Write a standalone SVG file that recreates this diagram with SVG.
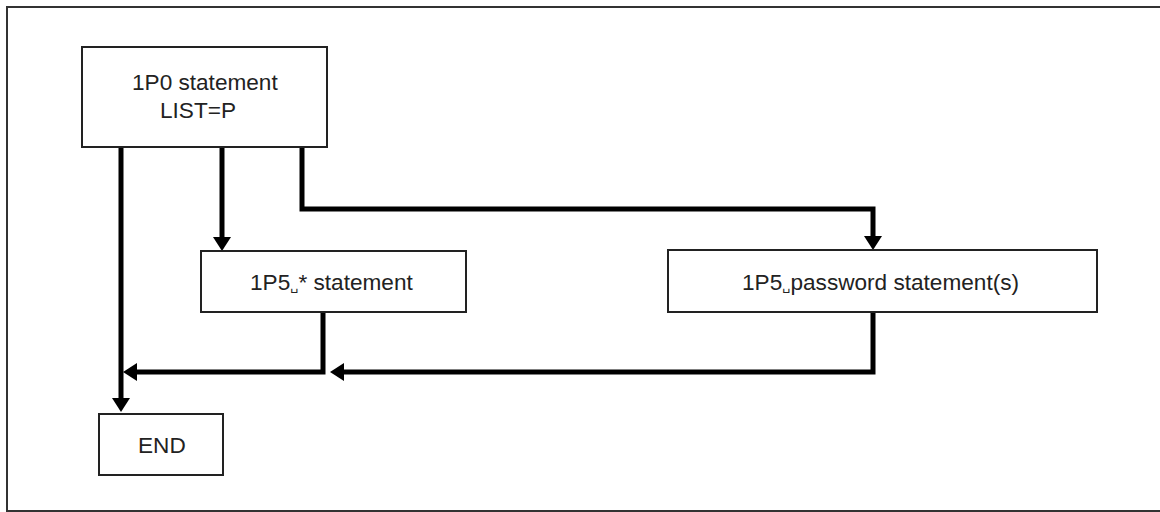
<svg xmlns="http://www.w3.org/2000/svg" width="1160" height="512" viewBox="0 0 1160 512">
  <style>
    .frame { fill: none; stroke: #333; stroke-width: 2; }
    .box { fill: #fff; stroke: #222; stroke-width: 2; }
    .label { font-family: "Liberation Sans", Arial, sans-serif; font-size: 22.6px; fill: #222; }
    .blank { font-family: "DejaVu Sans", sans-serif; font-size: 13px; }
    .flow { fill: none; stroke: #000; stroke-width: 5; stroke-linejoin: miter; stroke-linecap: butt; }
  </style>
  <defs>
    <marker id="arrow" viewBox="0 0 14 18" refX="0" refY="9" markerWidth="14" markerHeight="18" markerUnits="userSpaceOnUse" orient="auto">
      <path d="M0,0 L14,9 L0,18 z" fill="#000"/>
    </marker>
  </defs>

  <rect class="frame" x="7" y="7" width="1160" height="504" fill="#fff"/>

  <g id="connectors">
    <path class="flow" d="M121,147 V398" marker-end="url(#arrow)"/>
    <path class="flow" d="M222,147 V237" marker-end="url(#arrow)"/>
    <path class="flow" d="M302,147 V209 H873 V236" marker-end="url(#arrow)"/>
    <path class="flow" d="M323,312 V372 H137" marker-end="url(#arrow)"/>
    <path class="flow" d="M873,312 V372 H344" marker-end="url(#arrow)"/>
  </g>

  <g id="node-1p0">
    <rect class="box" x="82" y="47" width="245" height="100"/>
    <text class="label" x="132" y="90">1P0 statement</text>
    <text class="label" x="160" y="118">LIST=P</text>
  </g>

  <g id="node-1p5-star">
    <rect class="box" x="201" y="251" width="265" height="61"/>
    <text class="label" x="250" y="290">1P5<tspan class="blank">␣</tspan>* statement</text>
  </g>

  <g id="node-1p5-password">
    <rect class="box" x="668" y="250" width="429" height="62"/>
    <text class="label" x="742" y="290">1P5<tspan class="blank">␣</tspan>password statement(s)</text>
  </g>

  <g id="node-end">
    <rect class="box" x="99" y="414" width="124" height="61"/>
    <text class="label" x="138" y="453">END</text>
  </g>
</svg>
